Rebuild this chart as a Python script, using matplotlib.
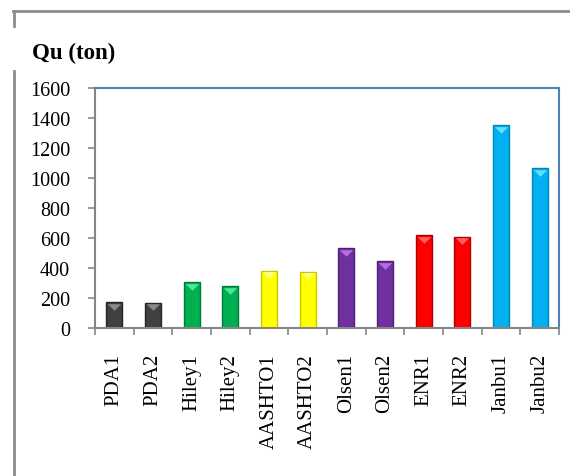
import numpy as np
import matplotlib.pyplot as plt
from matplotlib.lines import Line2D
from matplotlib.transforms import offset_copy

methods = ['PDA1', 'PDA2', 'Hiley1', 'Hiley2', 'AASHTO1', 'AASHTO2',
           'Olsen1', 'Olsen2', 'ENR1', 'ENR2', 'Janbu1', 'Janbu2']
qu = [171, 167, 305, 278, 380, 373, 531, 445, 618, 609, 1351, 1065]
colors = ['#404040', '#404040', '#00B050', '#00B050', '#FFFF00', '#FFFF00',
          '#7030A0', '#7030A0', '#FF0000', '#FF0000', '#00B0F0', '#00B0F0']
edges = ['#262626', '#262626', '#007A38', '#007A38', '#C8C800', '#C8C800',
         '#4E1F72', '#4E1F72', '#B00000', '#B00000', '#0086B8', '#0086B8']
tops = ['#8A8A8A', '#8A8A8A', '#4DE89A', '#4DE89A', '#FFFF80', '#FFFF80',
        '#B070E0', '#B070E0', '#FF6060', '#FF6060', '#60E0FF', '#60E0FF']
yticks = [0, 200, 400, 600, 800, 1000, 1200, 1400, 1600]

plt.rcParams['font.family'] = ['Liberation Serif', 'DejaVu Serif']

fig = plt.figure(figsize=(5.7, 4.77), dpi=100)
ax = fig.add_axes([0.1667, 0.3103, 0.8140, 0.5031])

x = np.arange(len(methods))
ax.bar(x, qu, width=0.42, color=colors, edgecolor=edges, linewidth=1.0, zorder=2)
# flat bevel triangle at the top of each bar
tri = [(-1, 0.5), (1, 0.5), (0, -0.5), (-1, 0.5)]
tr = offset_copy(ax.transData, fig=fig, x=0, y=-3.2, units='points')
for xi, v, c in zip(x, qu, tops):
    ax.plot(xi, v, marker=tri, ms=9.5, color=c, mec='none', transform=tr, zorder=3)

ax.set_xlim(-0.5, len(methods) - 0.5)
ax.set_ylim(0, 1600)
ax.set_yticks(yticks)
ax.set_yticklabels([str(t) for t in yticks], fontsize=14.5)
ax.set_xticks(x)
ax.set_xticklabels(methods, rotation=90, fontsize=15)
ax.set_xticks(np.arange(len(methods) + 1) - 0.5, minor=True)

ax.tick_params(axis='x', which='major', length=0, pad=18)
ax.tick_params(axis='x', which='minor', length=5, width=1.2, color='#868686', direction='out')
ax.tick_params(axis='y', length=5, width=1.2, color='#868686', direction='out', pad=13)

for s in ['left', 'bottom']:
    ax.spines[s].set_color('#868686')
    ax.spines[s].set_linewidth(1.5)
for s in ['top', 'right']:
    ax.spines[s].set_color('#4F81BD')
    ax.spines[s].set_linewidth(1.5)

fig.text(32 / 570, 1 - 53 / 477, 'Qu (ton)', fontsize=16.5, fontweight='bold', va='center', ha='left')

# partial outer frame
fig.add_artist(Line2D([13 / 570, 1.0], [1 - 12 / 477, 1 - 12 / 477], color='#8C8C8C', lw=2))
fig.add_artist(Line2D([14 / 570, 14 / 570], [1 - 12 / 477, 1 - 27 / 477], color='#8C8C8C', lw=2))
fig.add_artist(Line2D([14 / 570, 14 / 570], [1 - 72 / 477, 0.0], color='#8C8C8C', lw=2))

fig.savefig('out.png', dpi=100)
